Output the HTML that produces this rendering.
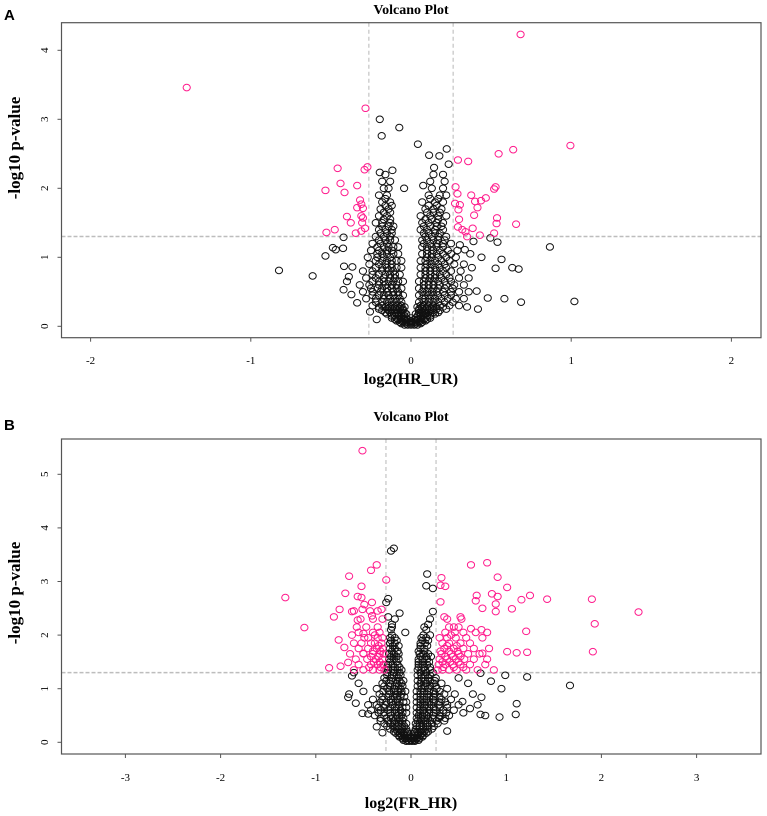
<!DOCTYPE html>
<html><head><meta charset="utf-8"><style>
html,body{margin:0;padding:0;background:#fff;width:767px;height:816px;overflow:hidden}
svg{display:block}
</style></head><body>
<svg id="chart" width="767" height="816" viewBox="0 0 767 816" xmlns="http://www.w3.org/2000/svg">
<text x="4" y="20" font-family="Liberation Sans, sans-serif" font-weight="bold" font-size="15">A</text>
<text x="4" y="430" font-family="Liberation Sans, sans-serif" font-weight="bold" font-size="15">B</text>
</svg>
<script>
// ---------- Panel A data ----------
const aXTicks = [-2,-1,0,1,2];
const aYTicks = [0,1,2,3,4];
const aSigX = [0.684,-1.40,-0.284,0.995,0.638,0.547,0.293,0.357,-0.458,-0.272,-0.290,-0.44,-0.336,-0.534,-0.415,0.278,0.528,0.519,0.29,0.376,0.467,-0.318,0.40,0.437,-0.31,0.305,0.275,-0.336,-0.30,0.415,0.296,-0.40,-0.31,-0.30,0.394,0.537,0.30,-0.376,-0.305,0.534,0.656,0.293,-0.476,-0.287,-0.31,-0.345,-0.528,0.32,0.34,0.385,0.519,0.43,0.35];
const aSigY = [4.23,3.46,3.16,2.62,2.56,2.50,2.41,2.39,2.29,2.31,2.27,2.07,2.04,1.97,1.94,2.02,2.02,1.99,1.92,1.90,1.86,1.83,1.81,1.82,1.77,1.76,1.78,1.72,1.71,1.72,1.69,1.59,1.60,1.57,1.61,1.57,1.55,1.50,1.50,1.49,1.48,1.44,1.40,1.42,1.38,1.35,1.36,1.40,1.37,1.42,1.35,1.32,1.30];
const aOutX = [-0.195,-0.073,-0.183,0.043,0.223,0.113,0.177,0.235,0.144,-0.116,-0.195,0.076,-0.043,0.867,-0.824,-0.614,1.02,0.687,0.583,0.479,0.565,0.632,0.672,0.528,0.44,0.495,0.54,-0.534,-0.488,-0.424,-0.421,-0.47,-0.418,-0.388,-0.366,-0.40,-0.421,-0.372,-0.336,-0.256,-0.214,0.418,0.35,0.41,0.38,0.37,0.305,0.39,0.336];
const aOutY = [3.00,2.88,2.76,2.64,2.57,2.48,2.47,2.35,2.30,2.26,2.23,2.04,2.00,1.15,0.81,0.73,0.36,0.35,0.40,0.41,0.97,0.85,0.83,0.84,1.00,1.28,1.22,1.02,1.14,1.13,1.29,1.11,0.87,0.72,0.86,0.65,0.53,0.46,0.34,0.21,0.10,0.25,0.28,0.51,0.85,1.05,1.18,1.23,1.11];
const aCloudY = [0.02,0.06,0.1,0.15,0.2,0.25,0.3,0.4,0.5,0.6,0.7,0.8,0.9,1.0,1.1,1.2,1.3,1.4,1.5,1.6,1.7,1.8,1.9,2.0,2.1,2.2];
const aCloudX = [
[-0.04,-0.02,0,0.02,0.04],
[-0.07,-0.05,-0.03,-0.01,0.01,0.03,0.05,0.07],
[-0.1,-0.08,-0.06,-0.04,-0.02,0.02,0.04,0.06,0.08,0.1],
[-0.12,-0.1,-0.08,-0.06,-0.04,0.04,0.06,0.08,0.1,0.12],
[-0.16,-0.13,-0.1,-0.08,-0.06,-0.04,0.05,0.07,0.09,0.11,0.14,0.17],
[-0.2,-0.15,-0.12,-0.09,-0.07,-0.05,0.05,0.07,0.1,0.13,0.16,0.22],
[-0.24,-0.18,-0.14,-0.11,-0.08,-0.06,0.06,0.08,0.11,0.14,0.18,0.24,0.3],
[-0.28,-0.22,-0.17,-0.13,-0.1,-0.07,0.07,0.09,0.12,0.15,0.19,0.23,0.28,0.33],
[-0.3,-0.24,-0.19,-0.15,-0.11,-0.08,0.07,0.1,0.13,0.16,0.2,0.25,0.3,0.36],
[-0.32,-0.26,-0.2,-0.16,-0.12,-0.09,0.08,0.11,0.14,0.18,0.22,0.27,0.33],
[-0.28,-0.22,-0.17,-0.13,-0.1,0.09,0.12,0.15,0.19,0.24,0.3,0.36],
[-0.3,-0.24,-0.18,-0.14,-0.11,0.09,0.12,0.16,0.2,0.25,0.31],
[-0.26,-0.2,-0.16,-0.12,0.1,0.13,0.17,0.21,0.27,0.33],
[-0.27,-0.21,-0.17,-0.13,0.1,0.13,0.17,0.22,0.28],
[-0.25,-0.2,-0.15,-0.12,0.1,0.14,0.18,0.23,0.29],
[-0.24,-0.19,-0.15,0.08,0.12,0.16,0.2,0.25],
[-0.22,-0.17,-0.13,0.09,0.13,0.17,0.22],
[-0.2,-0.16,-0.12,0.06,0.1,0.15,0.2],
[-0.22,-0.18,-0.13,0.07,0.11,0.16,0.2],
[-0.2,-0.15,0.06,0.12,0.17,0.22],
[-0.19,-0.14,0.09,0.14,0.19],
[-0.18,-0.13,0.07,0.15,0.2],
[-0.2,-0.15,0.11,0.18,0.22],
[-0.17,-0.14,0.13,0.2],
[-0.18,-0.13,0.12,0.21],
[-0.16,0.14,0.2]];
const aDenseY = [0.04,0.08,0.12,0.18,0.23,0.28,0.35,0.45,0.55,0.65,0.75,0.85,0.95,1.05,1.15,1.25,1.35,1.45,1.55,1.65,1.75,1.85];
const aDenseX = [
[-0.06,-0.03,0,0.03,0.06],
[-0.09,-0.06,-0.03,0,0.03,0.06,0.09],
[-0.12,-0.09,-0.06,-0.03,0,0.03,0.06,0.09,0.12],
[-0.15,-0.12,-0.09,-0.06,-0.03,0.03,0.06,0.09,0.12,0.15],
[-0.18,-0.14,-0.11,-0.08,-0.05,0.05,0.08,0.11,0.14,0.18],
[-0.2,-0.16,-0.13,-0.1,-0.07,-0.04,0.04,0.07,0.1,0.13,0.16,0.2],
[-0.22,-0.18,-0.15,-0.12,-0.09,-0.06,0.05,0.08,0.11,0.14,0.17,0.21,0.26],
[-0.24,-0.2,-0.17,-0.14,-0.11,-0.08,-0.05,0.05,0.08,0.11,0.14,0.17,0.21,0.25],
[-0.25,-0.21,-0.18,-0.15,-0.12,-0.09,-0.06,0.05,0.08,0.11,0.14,0.17,0.21,0.26],
[-0.24,-0.2,-0.17,-0.14,-0.11,-0.08,-0.05,0.05,0.08,0.11,0.14,0.17,0.21,0.25],
[-0.24,-0.2,-0.16,-0.13,-0.1,-0.07,0.06,0.09,0.12,0.15,0.18,0.22],
[-0.22,-0.18,-0.15,-0.12,-0.09,-0.06,0.06,0.09,0.12,0.15,0.18,0.22],
[-0.22,-0.18,-0.15,-0.12,-0.09,-0.06,0.06,0.09,0.12,0.15,0.19,0.24],
[-0.21,-0.18,-0.15,-0.11,-0.08,0.07,0.1,0.13,0.16,0.2,0.25],
[-0.21,-0.17,-0.14,-0.11,-0.08,0.07,0.1,0.13,0.16,0.2],
[-0.2,-0.16,-0.13,-0.1,0.07,0.1,0.14,0.17,0.21],
[-0.19,-0.15,-0.12,0.08,0.11,0.15,0.18],
[-0.18,-0.14,-0.11,0.08,0.12,0.16,0.19],
[-0.17,-0.13,0.09,0.13,0.17],
[-0.17,-0.13,0.1,0.14,0.18],
[-0.16,-0.12,0.11,0.16],
[-0.16,0.12,0.17]];

// ---------- Panel B data ----------
const bXTicks = [-3,-2,-1,0,1,2,3];
const bYTicks = [0,1,2,3,4,5];
const bSigX = [-0.51,0.80,0.63,-0.36,-0.42,-0.65,0.91,0.32,-0.26,-0.52,0.31,0.36,1.01,-0.69,0.85,0.69,1.25,0.91,-1.32,1.43,1.90,-0.56,1.16,0.68,0.31,-0.52,-0.41,0.89,-0.49,0.75,1.06,-0.75,-0.51,-0.31,-0.62,0.89,2.39,-0.41,0.35,0.52,-0.81,-0.56,1.93,-1.12,1.21,0.63,0.74,-0.62,-0.50,-0.76,-0.70,1.91,1.01,1.11,1.22,0.75,-0.50,-0.66,-0.86,-0.74,0.87];
const bSigY = [5.44,3.35,3.31,3.31,3.21,3.10,3.08,3.07,3.03,2.91,2.93,2.91,2.89,2.78,2.77,2.74,2.74,2.72,2.70,2.67,2.67,2.72,2.66,2.64,2.62,2.70,2.61,2.58,2.57,2.50,2.49,2.48,2.48,2.48,2.44,2.44,2.43,2.36,2.34,2.34,2.34,2.28,2.21,2.14,2.07,2.12,2.10,2.00,2.03,1.91,1.77,1.69,1.69,1.67,1.68,1.66,1.66,1.49,1.39,1.42,1.35];
const bSigCloudY = [1.35,1.45,1.55,1.65,1.75,1.85,1.95,2.05,2.15,2.3,2.45,1.4,1.6,1.8,2.0,1.5,1.7];
const bSigCloudLeft = [
[-0.28,-0.33,-0.4,-0.5,-0.6],[-0.29,-0.35,-0.42,-0.55],[-0.3,-0.37,-0.46,-0.58],[-0.29,-0.33,-0.4,-0.5,-0.64],
[-0.3,-0.36,-0.45,-0.55],[-0.31,-0.38,-0.42,-0.52,-0.6],[-0.3,-0.35,-0.45,-0.49],[-0.33,-0.4,-0.55],
[-0.35,-0.47,-0.57],[-0.3,-0.4,-0.53],[-0.35,-0.43,-0.6],
[-0.32,-0.44],[-0.34,-0.42],[-0.34],[-0.38],[-0.33,-0.39],[-0.32,-0.4]];
const bSigCloudRight = [
[0.28,0.33,0.4,0.48,0.58,0.7],[0.29,0.36,0.44,0.52,0.62,0.78],[0.3,0.38,0.47,0.56,0.66,0.8],[0.32,0.42,0.5,0.6,0.72],
[0.35,0.45,0.55,0.66,0.82],[0.33,0.4,0.52,0.62],[0.3,0.38,0.47,0.58,0.75],[0.36,0.46,0.55,0.68,0.8],
[0.4,0.45,0.5],[0.38,0.53],[],
[0.34,0.45,0.55],[0.36,0.44,0.52],[0.38,0.48],[0.42],[0.33,0.41,0.5],[0.31,0.4,0.49]];
const bOutX = [-0.18,-0.21,0.17,0.16,0.23,-0.24,-0.26,-0.12,0.23,-0.24,-0.06,1.67,1.22,0.99,0.84,0.95,1.11,1.10,0.93,0.78,0.73,0.74,0.73,-0.65,-0.66,-0.58,-0.51,-0.45,-0.62,-0.36,-0.3,0.38,0.62,0.54,0.31,-0.55,-0.5,0.6,0.65,0.55,-0.45,0.7,-0.6,0.5];
const bOutY = [3.62,3.57,3.14,2.92,2.87,2.68,2.61,2.41,2.44,2.34,2.05,1.06,1.22,1.25,1.14,1.0,0.72,0.52,0.47,0.5,0.52,0.84,1.29,0.9,0.84,0.73,0.54,0.53,1.24,0.29,0.18,0.21,0.63,0.76,0.48,1.1,0.95,1.1,0.9,0.55,0.7,0.7,1.3,1.2];
const bCloudY = [0.02,0.07,0.13,0.2,0.3,0.4,0.5,0.6,0.7,0.8,0.9,1.0,1.1,1.2,1.3,1.4,1.5,1.6,1.7,1.8,1.9,2.0,2.1,2.2,2.3];
const bCloudX = [
[-0.05,-0.02,0.01,0.04],
[-0.09,-0.06,-0.03,0,0.03,0.06,0.09],
[-0.13,-0.1,-0.07,-0.04,0.04,0.07,0.1,0.13],
[-0.18,-0.14,-0.1,-0.07,-0.04,0.04,0.07,0.1,0.14,0.18],
[-0.25,-0.19,-0.14,-0.1,-0.07,0.06,0.09,0.13,0.18,0.24],
[-0.32,-0.24,-0.18,-0.13,-0.09,0.07,0.11,0.15,0.2,0.27,0.35],
[-0.38,-0.28,-0.21,-0.15,-0.1,0.08,0.12,0.17,0.23,0.3,0.4],
[-0.42,-0.32,-0.24,-0.17,-0.11,0.09,0.13,0.19,0.26,0.34,0.45],
[-0.36,-0.27,-0.19,-0.13,0.1,0.15,0.21,0.29,0.38,0.5],
[-0.4,-0.3,-0.21,-0.14,0.1,0.16,0.23,0.32,0.42],
[-0.33,-0.23,-0.15,-0.1,0.1,0.17,0.25,0.35,0.46],
[-0.36,-0.25,-0.17,-0.11,0.11,0.18,0.27,0.38],
[-0.3,-0.22,-0.15,-0.1,0.1,0.16,0.24,0.32],
[-0.28,-0.2,-0.13,0.11,0.18,0.26],
[-0.25,-0.18,-0.12,0.1,0.16,0.23],
[-0.24,-0.17,-0.12,0.08,0.14,0.2],
[-0.22,-0.15,0.08,0.13,0.19],
[-0.21,-0.15,0.1,0.16,0.21],
[-0.2,-0.14,0.08,0.14],
[-0.19,-0.13,0.1,0.17],
[-0.21,-0.15,0.12,0.18],
[-0.2,0.13,0.2],
[-0.21,0.16],
[-0.2,0.18],
[-0.17,0.2]];
const bDenseY = [0.04,0.1,0.17,0.25,0.35,0.45,0.55,0.65,0.75,0.85,0.95,1.05,1.15,1.25,1.35,1.45,1.55,1.65,1.75,1.85,1.95,2.15];
const bDenseX = [
[-0.08,-0.04,0,0.04,0.08],
[-0.12,-0.08,-0.04,0,0.04,0.08,0.12],
[-0.16,-0.12,-0.08,-0.04,0.04,0.08,0.12,0.16],
[-0.22,-0.17,-0.13,-0.09,-0.05,0.05,0.09,0.13,0.17,0.22],
[-0.28,-0.22,-0.17,-0.13,-0.09,-0.05,0.05,0.09,0.13,0.17,0.22,0.28],
[-0.32,-0.26,-0.21,-0.16,-0.12,-0.08,0.06,0.1,0.14,0.18,0.23,0.29,0.36],
[-0.34,-0.28,-0.22,-0.17,-0.13,-0.09,-0.05,0.06,0.1,0.14,0.19,0.24,0.3,0.37],
[-0.34,-0.28,-0.22,-0.17,-0.13,-0.09,-0.05,0.06,0.1,0.14,0.19,0.24,0.3,0.38],
[-0.32,-0.26,-0.21,-0.16,-0.12,-0.08,-0.05,0.06,0.1,0.14,0.19,0.24,0.3,0.36],
[-0.3,-0.24,-0.19,-0.15,-0.11,-0.07,0.06,0.1,0.14,0.19,0.24,0.3],
[-0.29,-0.23,-0.18,-0.14,-0.1,-0.06,0.06,0.1,0.14,0.19,0.24,0.3],
[-0.28,-0.22,-0.17,-0.13,-0.09,0.07,0.11,0.15,0.2,0.26],
[-0.26,-0.21,-0.16,-0.12,-0.08,0.07,0.11,0.15,0.2,0.25],
[-0.25,-0.2,-0.15,-0.11,0.07,0.11,0.15,0.2],
[-0.24,-0.19,-0.14,-0.1,0.07,0.11,0.15,0.2],
[-0.24,-0.19,-0.14,0.08,0.12,0.17],
[-0.23,-0.18,-0.13,0.08,0.12,0.17],
[-0.23,-0.18,-0.13,0.09,0.13,0.18],
[-0.22,-0.17,0.1,0.14],
[-0.22,-0.17,0.1,0.15],
[-0.22,-0.17,0.11,0.16],
[-0.2,0.14]];
const fcThreshA = 0.263, fcThreshB = 0.263, pThresh = 1.301;

const NS = 'http://www.w3.org/2000/svg';
const svg = document.getElementById('chart');
function mk(tag, attrs, parent){
  const e = document.createElementNS(NS, tag);
  for (const k in attrs) e.setAttribute(k, attrs[k]);
  (parent||svg).appendChild(e);
  return e;
}

function panel(p){
  const g = mk('g', {});
  
  
  const sx = v => p.x0 + v * p.kx;
  const sy = v => p.y0 - v * p.ky;

  const title = mk('text', {x: 411, y: p.titleY, 'text-anchor':'middle', 'font-family':'Liberation Serif, serif', 'font-weight':'bold', 'font-size':14}, g);
  title.textContent = 'Volcano Plot';
  
  

  [-p.fc, p.fc].forEach(v => {
    const l = mk('line', {x1: sx(v), x2: sx(v), y1: p.top, y2: p.bottom, stroke:'#b8b8b8', 'stroke-width':1, 'stroke-dasharray':'4,3'}, g);
    
    
  });
  const h = mk('line', {x1: p.left, x2: p.right, y1: sy(pThresh), y2: sy(pThresh), stroke:'#bdbdbd', 'stroke-width':1.5, 'stroke-dasharray':'4,2'}, g);
  
  

  const pts = mk('g', {fill:'none', 'stroke-width':1}, g);
  
  
  function dot(x, y, color, name){
    const c = mk('ellipse', {cx: sx(x), cy: sy(y), rx: 3.6, ry: 3.3, stroke: color}, pts);
    
    
  }
  p.cloudY.forEach((y, i) => p.cloudX[i].forEach(x => dot(x, y, '#111', 'point')));
  p.denseY.forEach((y, i) => p.denseX[i].forEach(x => dot(x, y, '#111', 'point')));
  p.outX.forEach((x, i) => dot(x, p.outY[i], '#111', 'point'));
  if (p.sigCloudY) p.sigCloudY.forEach((y, i) => {
    p.sigL[i].forEach(x => dot(x, y, '#ff1a8c', 'significant-point'));
    p.sigR[i].forEach(x => dot(x, y, '#ff1a8c', 'significant-point'));
  });
  p.sigX.forEach((x, i) => dot(x, p.sigY[i], '#ff1a8c', 'significant-point'));

  const box = mk('rect', {x: p.left, y: p.top, width: p.right - p.left, height: p.bottom - p.top, fill:'none', stroke:'#555', 'stroke-width':1.2}, g);
  
  

  p.xTicks.forEach(t => {
    const tl = mk('line', {x1: sx(t), x2: sx(t), y1: p.bottom, y2: p.bottom + 4, stroke:'#555'}, g);
    
    
    const tx = mk('text', {x: sx(t), y: p.xLabY, 'text-anchor':'middle', 'font-family':'Liberation Serif, serif', 'font-size':11}, g);
    tx.textContent = String(t);
    
    
  });
  p.yTicks.forEach(t => {
    const tl = mk('line', {x1: p.left - 4, x2: p.left, y1: sy(t), y2: sy(t), stroke:'#555'}, g);
    
    
    const tx = mk('text', {x: 0, y: 0, 'text-anchor':'middle', 'font-family':'Liberation Serif, serif', 'font-size':11, transform:`translate(48,${sy(t)}) rotate(-90)`}, g);
    tx.textContent = String(t);
    
    
  });
  const xt = mk('text', {x: 411, y: p.xTitleY, 'text-anchor':'middle', 'font-family':'Liberation Serif, serif', 'font-weight':'bold', 'font-size':16}, g);
  xt.textContent = p.xTitle;
  
  
  const yt = mk('text', {x: 0, y: 0, 'text-anchor':'middle', 'font-family':'Liberation Serif, serif', 'font-weight':'bold', 'font-size':17, transform:`translate(20,${p.yTitleC}) rotate(-90)`}, g);
  yt.textContent = '-log10 p-value';
  
  
}

panel({id:'panel-a', left:61.5, right:761, top:22.7, bottom:337.7, x0:411, kx:160.2, y0:326.3, ky:69,
  fc: fcThreshA, titleY:14, xLabY:364, xTitleY:384, yTitleC:148, xTitle:'log2(HR_UR)',
  xTicks:aXTicks, yTicks:aYTicks, sigX:aSigX, sigY:aSigY, outX:aOutX, outY:aOutY, cloudY:aCloudY, cloudX:aCloudX,
  denseY:aDenseY, denseX:aDenseX});
panel({id:'panel-b', left:61.5, right:761, top:439, bottom:754, x0:411, kx:95.2, y0:742.3, ky:53.6,
  fc: fcThreshB, titleY:421, xLabY:781, xTitleY:808, yTitleC:593, xTitle:'log2(FR_HR)',
  xTicks:bXTicks, yTicks:bYTicks, sigX:bSigX, sigY:bSigY, outX:bOutX, outY:bOutY, cloudY:bCloudY, cloudX:bCloudX,
  denseY:bDenseY, denseX:bDenseX,
  sigCloudY:bSigCloudY, sigL:bSigCloudLeft, sigR:bSigCloudRight});
</script>
</body></html>
